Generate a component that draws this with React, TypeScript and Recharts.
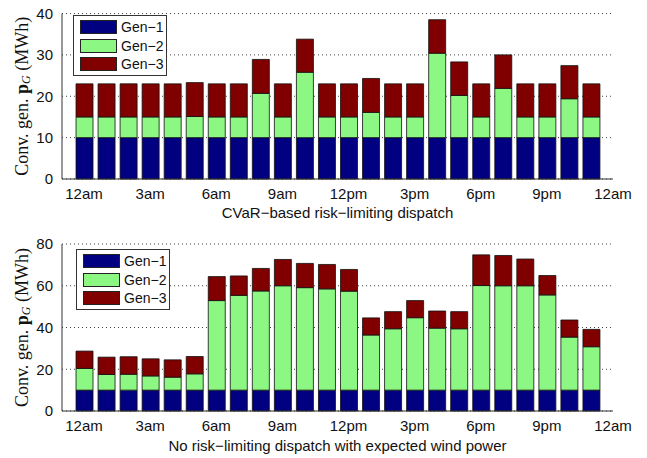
import React from "react";
import { BarChart, Bar, XAxis, YAxis, CartesianGrid, Legend } from "recharts";

const HOURS = [0, 1, 2, 3, 4, 5, 6, 7, 8, 9, 10, 11, 12, 13, 14, 15, 16, 17, 18, 19, 20, 21, 22, 23];
const MINOR_TICKS = [0, 1, 2, 3, 4, 5, 6, 7, 8, 9, 10, 11, 12, 13, 14, 15, 16, 17, 18, 19, 20, 21, 22, 23, 24];
const TICK_HOURS = [0, 3, 6, 9, 12, 15, 18, 21, 24];
const TICK_LABELS = ["12am", "3am", "6am", "9am", "12pm", "3pm", "6pm", "9pm", "12am"];
const SERIES_NAMES = ["Gen\u22121", "Gen\u22122", "Gen\u22123"];

// CVaR-based risk-limiting dispatch (MWh)
const CVAR_GEN1 = [10, 10, 10, 10, 10, 10, 10, 10, 10, 10, 10, 10, 10, 10, 10, 10, 10, 10, 10, 10, 10, 10, 10, 10];
const CVAR_GEN2 = [5, 5, 5, 5, 5, 5.1, 5, 5, 10.7, 5, 15.8, 5, 5, 6.1, 5, 5, 20.4, 10.2, 5, 11.9, 5, 5, 9.4, 5];
const CVAR_GEN3 = [8, 8, 8, 8, 8, 8.2, 8, 8, 8.2, 8, 8, 8, 8, 8.2, 8, 8, 8.1, 8.1, 8, 8.1, 8, 8, 8, 8];

// no risk-limiting dispatch with expected wind power (MWh)
const BASE_GEN1 = [10, 10, 10, 10, 10, 10, 10, 10, 10, 10, 10, 10, 10, 10, 10, 10, 10, 10, 10, 10, 10, 10, 10, 10];
const BASE_GEN2 = [10.4, 7.5, 7.6, 6.8, 6.2, 7.8, 42.9, 45.4, 47.5, 50, 49.1, 48.5, 47.4, 26.4, 29.4, 34.7, 29.7, 29.4, 50.1, 50, 50, 45.6, 25.4, 20.8];
const BASE_GEN3 = [8.3, 8.3, 8.4, 8.2, 8.3, 8.3, 11.5, 9.3, 10.8, 12.6, 11.6, 11.7, 10.4, 8.2, 8.2, 8.2, 8.2, 8.2, 14.7, 14.5, 12.8, 9.3, 8.2, 8.3];

const COLORS = ["#000080", "#8cf783", "#800000"];
const AXIS = "#333";
const SANS = "'Liberation Sans', Arial, sans-serif";
const SERIF = "'Liberation Serif', 'Times New Roman', serif";

function XTitle({ viewBox, text, dy }: any) {
  const cx = viewBox.x + viewBox.width / 2;
  return (
    <text x={cx} y={viewBox.y + dy} textAnchor="middle" dominantBaseline="central" fontFamily={SANS} fontSize={15} fill="#111">
      {text}
    </text>
  );
}

function YTitle({ viewBox }: any) {
  const cx = viewBox.x;
  const cy = viewBox.y + viewBox.height / 2;
  return (
    <text
      x={cx}
      y={cy}
      transform={`rotate(-90 ${cx} ${cy})`}
      textAnchor="middle"
      dominantBaseline="central"
      fontFamily={SERIF}
      fontSize={18}
      fill="#111"
    >
      Conv. gen. <tspan fontWeight="bold">p</tspan>
      <tspan fontStyle="italic" fontSize={12} dy={4}>G</tspan>
      <tspan dy={-4}> (MWh)</tspan>
    </text>
  );
}

function LegendBox({ payload }: any) {
  return (
    <div style={{ border: `1px solid ${AXIS}`, background: "#fff", width: 92, padding: "2px 0 1px 0" }}>
      {(payload || []).map((p: any) => (
        <div key={p.value} style={{ display: "flex", alignItems: "center", height: 18.6 }}>
          <div style={{ width: 37, height: 14, marginLeft: 6, background: p.color, border: "1px solid #222", boxSizing: "border-box" }} />
          <span style={{ marginLeft: 4, fontFamily: SANS, fontSize: 14, color: "#111", lineHeight: "14px" }}>{p.value}</span>
        </div>
      ))}
    </div>
  );
}

interface DispatchChartProps {
  gen1: number[];
  gen2: number[];
  gen3: number[];
  yMax: number;
  yTicks: number[];
  title: string;
  height: number;
  top: number;
  bottom: number;
  titleDy: number;
  legendLeft: number;
  legendTop: number;
}

function DispatchChart(props: DispatchChartProps) {
  const { gen1, gen2, gen3, yMax, yTicks, title, height, top, bottom, titleDy, legendLeft, legendTop } = props;
  const data = HOURS.map((h, i) => ({ hour: h, gen1: gen1[i], gen2: gen2[i], gen3: gen3[i] }));
  const keys = ["gen1", "gen2", "gen3"];

  return (
    <BarChart width={647} height={height} data={data} margin={{ top, right: 34, bottom, left: 22 }}>
      <CartesianGrid vertical={false} stroke="#444" strokeDasharray="1 3" />
      <XAxis
        dataKey="hour"
        type="number"
        domain={[-1, 24]}
        ticks={TICK_HOURS}
        interval={0}
        tickFormatter={(v: number) => TICK_LABELS[TICK_HOURS.indexOf(v)]}
        tickLine={false}
        tickSize={0}
        tickMargin={9}
        height={30}
        axisLine={{ stroke: AXIS }}
        tick={{ fontSize: 15, fill: "#111", fontFamily: SANS }}
        label={<XTitle text={title} dy={titleDy} />}
      />
      <XAxis
        xAxisId="top"
        orientation="top"
        mirror
        dataKey="hour"
        type="number"
        domain={[-1, 24]}
        ticks={MINOR_TICKS}
        interval={0}
        tick={false}
        tickSize={5}
        height={0}
        stroke={AXIS}
      />
      <YAxis
        domain={[0, yMax]}
        ticks={yTicks}
        interval={0}
        width={40}
        tickLine={false}
        tickSize={0}
        tickMargin={9}
        axisLine={{ stroke: AXIS }}
        tick={{ fontSize: 15, fill: "#111", fontFamily: SANS }}
        label={<YTitle />}
      />
      <YAxis yAxisId="leftIn" mirror width={0} domain={[0, yMax]} ticks={yTicks} interval={0} tick={false} tickSize={5} axisLine={false} stroke={AXIS} />
      <YAxis yAxisId="right" orientation="right" mirror width={0} domain={[0, yMax]} ticks={yTicks} interval={0} tick={false} tickSize={5} stroke={AXIS} />
      <Legend
        layout="horizontal"
        verticalAlign="middle"
        align="center"
        content={<LegendBox />}
        wrapperStyle={{ left: legendLeft, top: legendTop, width: "auto" }}
      />
      {keys.map((k, i) => (
        <Bar
          key={k}
          dataKey={k}
          name={SERIES_NAMES[i]}
          stackId="g"
          fill={COLORS[i]}
          stroke="#111"
          strokeWidth={0.8}
          barSize={17}
          isAnimationActive={false}
        />
      ))}
    </BarChart>
  );
}

export default function App() {
  return (
    <div style={{ position: "absolute", left: 0, top: 0, width: 647, height: 458, background: "#fff" }}>
      <DispatchChart
        gen1={CVAR_GEN1}
        gen2={CVAR_GEN2}
        gen3={CVAR_GEN3}
        yMax={40}
        yTicks={[0, 10, 20, 30, 40]}
        title={"CVaR\u2212based risk\u2212limiting dispatch"}
        height={225}
        top={13.5}
        bottom={16}
        titleDy={33}
        legendLeft={73}
        legendTop={15}
      />
      <DispatchChart
        gen1={BASE_GEN1}
        gen2={BASE_GEN2}
        gen3={BASE_GEN3}
        yMax={80}
        yTicks={[0, 20, 40, 60, 80]}
        title={"No risk\u2212limiting dispatch with expected wind power"}
        height={233}
        top={19}
        bottom={17}
        titleDy={34.5}
        legendLeft={76}
        legendTop={24}
      />
    </div>
  );
}
